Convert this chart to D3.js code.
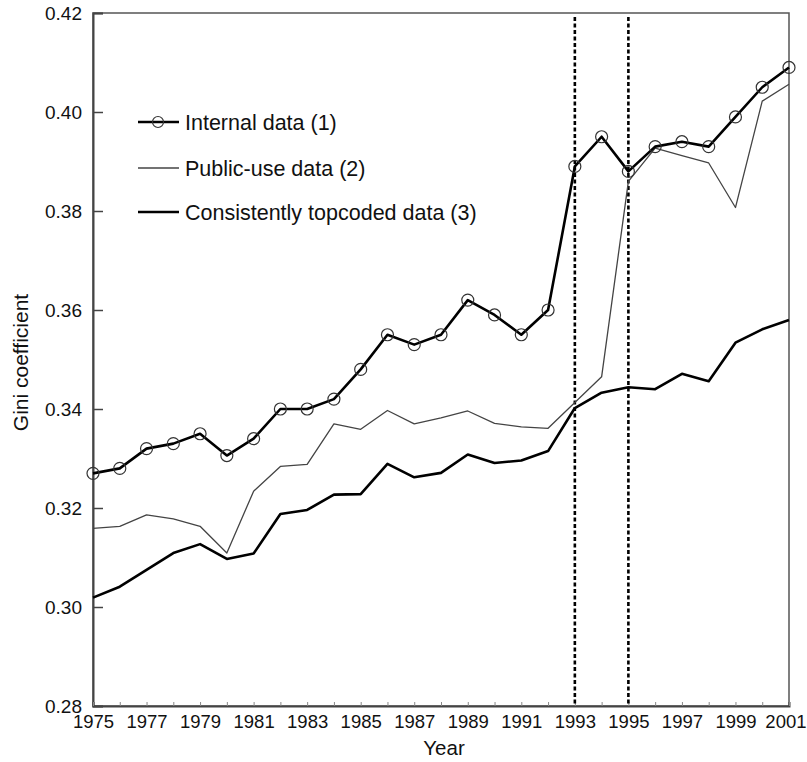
<!DOCTYPE html>
<html>
<head>
<meta charset="utf-8">
<script src="https://cdn.jsdelivr.net/npm/d3@7"></script>
<style>
  html, body { margin: 0; padding: 0; background: #fff; }
  svg { display: block; font-family: "Liberation Sans", Arial, Helvetica, sans-serif; }
</style>
</head>
<body>
<svg id="chart" width="807" height="762"></svg>
<script>
const years = d3.range(1975, 2002);
const internalData = [0.327, 0.328, 0.332, 0.333, 0.335, 0.3306, 0.334, 0.340, 0.340, 0.342, 0.348, 0.355, 0.353, 0.355, 0.362, 0.359, 0.355, 0.360, 0.389, 0.395, 0.388, 0.393, 0.394, 0.393, 0.399, 0.405, 0.409];
const publicData = [0.3159, 0.3163, 0.3186, 0.3178, 0.3163, 0.3109, 0.3234, 0.3284, 0.3288, 0.3370, 0.3359, 0.3397, 0.3370, 0.3382, 0.3396, 0.3371, 0.3364, 0.3361, 0.3413, 0.3465, 0.3860, 0.3927, 0.3912, 0.3897, 0.3807, 0.4022, 0.4056];
const topcodedData = [0.3019, 0.3041, 0.3075, 0.3109, 0.3127, 0.3097, 0.3108, 0.3188, 0.3196, 0.3227, 0.3228, 0.3289, 0.3262, 0.3271, 0.3308, 0.3291, 0.3296, 0.3315, 0.3402, 0.3433, 0.3444, 0.3440, 0.3471, 0.3456, 0.3534, 0.3561, 0.3580];
const yTicks = [0.28, 0.30, 0.32, 0.34, 0.36, 0.38, 0.40, 0.42];
const xLabelYears = [1975, 1977, 1979, 1981, 1983, 1985, 1987, 1989, 1991, 1993, 1995, 1997, 1999, 2001];
const breakYears = [1993, 1995];
const legendLabels = ["Internal data (1)", "Public-use data (2)", "Consistently topcoded data (3)"];
const xTitle = "Year";
const yTitle = "Gini coefficient";

const svg = d3.select("#chart");
const mL = 93, mR = 789, mT = 13, mB = 706;
const x = d3.scaleLinear().domain([1975, 2001]).range([mL, mR]);
const y = d3.scaleLinear().domain([0.28, 0.42]).range([mB, mT]);

// frame
svg.append("rect").attr("x", mL).attr("y", mT).attr("width", mR - mL).attr("height", mB - mT)
  .attr("fill", "none").attr("stroke", "#555").attr("stroke-width", 1.5);

// y axis
const yAxis = d3.axisLeft(y).tickValues(yTicks).tickFormat(d3.format(".2f")).tickSize(-10).tickPadding(11);
const gy = svg.append("g").attr("transform", `translate(${mL},0)`).call(yAxis);
gy.select(".domain").attr("stroke", "#444").attr("stroke-width", 2);
gy.selectAll(".tick line").attr("stroke", "#444").attr("stroke-width", 1.5);
gy.selectAll(".tick text").attr("font-size", 19).attr("fill", "#111")
  .attr("font-family", "'Liberation Sans', Arial, sans-serif");

// x axis
const xAxis = d3.axisBottom(x).tickValues(years).tickSize(-4).tickPadding(9)
  .tickFormat(d => xLabelYears.includes(d) ? String(d) : "");
const gx = svg.append("g").attr("transform", `translate(0,${mB})`).call(xAxis);
gx.select(".domain").attr("stroke", "#444").attr("stroke-width", 2);
gx.selectAll(".tick line").attr("stroke", "#888").attr("stroke-width", 1);
gx.selectAll(".tick text").attr("font-size", 18.5).attr("fill", "#111")
  .attr("font-family", "'Liberation Sans', Arial, sans-serif");
gx.selectAll(".tick text").filter(d => d === 2001).attr("text-anchor", "end").attr("dx", 17);

// axis titles
svg.append("text").attr("x", (mL + mR) / 2 + 3).attr("y", 755).attr("text-anchor", "middle")
  .attr("font-size", 20.5).attr("fill", "#111").text(xTitle);
svg.append("text").attr("transform", `translate(28,${y(0.35) + 3}) rotate(-90)`).attr("text-anchor", "middle")
  .attr("font-size", 21).attr("fill", "#111").text(yTitle);

// break lines
svg.selectAll(".brk").data(breakYears).enter().append("line")
  .attr("x1", d => x(d)).attr("x2", d => x(d)).attr("y1", mT + 4).attr("y2", mB)
  .attr("stroke", "#000").attr("stroke-width", 2.6).attr("stroke-dasharray", "4,2.5");

const line = d3.line().x(d => x(d[0])).y(d => y(d[1]));
const zip = arr => years.map((yr, i) => [yr, arr[i]]);

svg.append("path").datum(zip(publicData)).attr("d", line)
  .attr("fill", "none").attr("stroke", "#444").attr("stroke-width", 1.3).attr("stroke-linejoin", "round");
svg.append("path").datum(zip(topcodedData)).attr("d", line)
  .attr("fill", "none").attr("stroke", "#000").attr("stroke-width", 2.6).attr("stroke-linejoin", "round");
svg.append("path").datum(zip(internalData)).attr("d", line)
  .attr("fill", "none").attr("stroke", "#000").attr("stroke-width", 2.6).attr("stroke-linejoin", "round");
svg.selectAll(".pt").data(zip(internalData)).enter().append("circle")
  .attr("cx", d => x(d[0])).attr("cy", d => y(d[1])).attr("r", 6)
  .attr("fill", "none").attr("stroke", "#333").attr("stroke-width", 1.2);

// legend
const legY = [122, 168, 212];
const lg = svg.append("g");
lg.append("line").attr("x1", 138).attr("x2", 179).attr("y1", legY[0]).attr("y2", legY[0])
  .attr("stroke", "#000").attr("stroke-width", 2.6);
lg.append("circle").attr("cx", 158).attr("cy", legY[0]).attr("r", 5.5)
  .attr("fill", "none").attr("stroke", "#333").attr("stroke-width", 1.2);
lg.append("line").attr("x1", 138).attr("x2", 179).attr("y1", legY[1]).attr("y2", legY[1])
  .attr("stroke", "#444").attr("stroke-width", 1.3);
lg.append("line").attr("x1", 138).attr("x2", 179).attr("y1", legY[2]).attr("y2", legY[2])
  .attr("stroke", "#000").attr("stroke-width", 2.6);
lg.selectAll(".lt").data(legendLabels).enter().append("text")
  .attr("x", 185).attr("y", (d, i) => legY[i]).attr("dy", "0.35em")
  .attr("font-size", 21.5).attr("fill", "#111").text(d => d);
</script>
</body>
</html>
